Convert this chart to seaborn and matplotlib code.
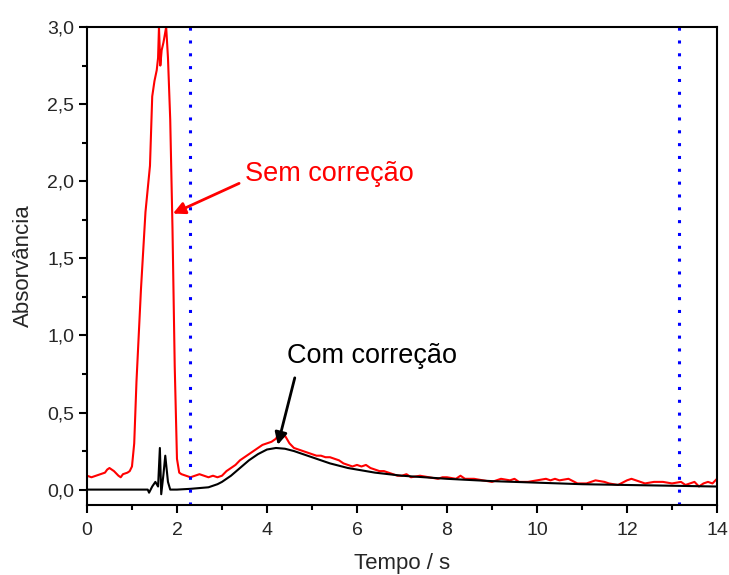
import matplotlib
matplotlib.use("Agg")
import matplotlib.pyplot as plt
from matplotlib.ticker import MultipleLocator, FuncFormatter
import numpy as np
import pandas as pd
import seaborn as sns

# Signal without background correction (time in s, absorbance)
t_sem = [0.0, 0.1, 0.2, 0.3, 0.4, 0.45, 0.5, 0.55, 0.6, 0.7, 0.75, 0.8, 0.9, 0.95,
         1.0, 1.05, 1.1, 1.2, 1.3, 1.4, 1.45, 1.5, 1.55, 1.58, 1.6, 1.63, 1.66, 1.7,
         1.76, 1.8, 1.85, 1.9, 1.95, 2.0, 2.05, 2.1, 2.2, 2.3, 2.4, 2.5, 2.6, 2.7,
         2.8, 2.9, 3.0, 3.1, 3.2, 3.3, 3.4, 3.5, 3.6, 3.7, 3.8, 3.9, 4.0, 4.1, 4.2,
         4.25, 4.3, 4.4, 4.5, 4.6, 4.7, 4.8, 4.9, 5.0, 5.1, 5.2, 5.3, 5.4, 5.5, 5.6,
         5.7, 5.8, 5.9, 6.0, 6.1, 6.2, 6.3, 6.4, 6.5, 6.6, 6.7, 6.8, 6.9, 7.0, 7.1,
         7.2, 7.4, 7.6, 7.8, 7.9, 8.0, 8.2, 8.3, 8.4, 8.6, 8.8, 9.0, 9.1, 9.2, 9.4,
         9.5, 9.6, 9.8, 10.0, 10.2, 10.3, 10.4, 10.5, 10.7, 10.9, 11.1, 11.3, 11.5,
         11.6, 11.8, 12.0, 12.1, 12.2, 12.4, 12.6, 12.8, 13.0, 13.2, 13.3, 13.5,
         13.6, 13.7, 13.8, 13.9, 14.0]
a_sem = [0.09, 0.08, 0.09, 0.10, 0.11, 0.13, 0.14, 0.13, 0.12, 0.09, 0.08, 0.10, 0.11, 0.12,
         0.15, 0.30, 0.70, 1.30, 1.80, 2.10, 2.55, 2.65, 2.72, 2.80, 3.00, 2.75, 2.85, 2.90,
         3.00, 2.80, 2.40, 1.70, 0.80, 0.20, 0.11, 0.10, 0.09, 0.08, 0.09, 0.10, 0.09, 0.08,
         0.09, 0.08, 0.09, 0.12, 0.14, 0.16, 0.19, 0.21, 0.23, 0.25, 0.27, 0.29, 0.30, 0.31, 0.33,
         0.36, 0.33, 0.35, 0.30, 0.27, 0.26, 0.25, 0.24, 0.23, 0.22, 0.22, 0.21, 0.21, 0.20, 0.19,
         0.17, 0.16, 0.15, 0.16, 0.15, 0.16, 0.14, 0.13, 0.12, 0.12, 0.11, 0.10, 0.09, 0.09, 0.10,
         0.08, 0.09, 0.08, 0.07, 0.08, 0.08, 0.07, 0.09, 0.07, 0.07, 0.06, 0.05, 0.06, 0.07, 0.06,
         0.07, 0.05, 0.05, 0.06, 0.07, 0.06, 0.07, 0.06, 0.07, 0.04, 0.04, 0.06, 0.05,
         0.04, 0.03, 0.06, 0.07, 0.06, 0.04, 0.05, 0.05, 0.04, 0.05, 0.03, 0.05,
         0.02, 0.04, 0.05, 0.04, 0.07]

# Signal with background correction
t_com = [0.0, 0.5, 1.0, 1.35, 1.38, 1.45, 1.52, 1.58, 1.62, 1.65, 1.7, 1.74, 1.8, 1.85,
         1.9, 2.0, 2.3, 2.5, 2.7, 2.9, 3.0, 3.2, 3.4, 3.6, 3.8, 4.0, 4.2, 4.4, 4.6, 4.8,
         5.0, 5.2, 5.4, 5.6, 5.8, 6.0, 6.4, 7.0, 7.5, 8.0, 9.0, 10.0, 11.0, 12.0, 13.0, 14.0]
a_com = [0.0, 0.0, 0.0, 0.0, -0.02, 0.02, 0.05, 0.02, 0.27, -0.03, 0.10, 0.22, 0.05, 0.0,
         0.0, 0.0, 0.005, 0.01, 0.015, 0.035, 0.05, 0.09, 0.14, 0.19, 0.23, 0.26, 0.27, 0.265, 0.25, 0.23,
         0.21, 0.19, 0.17, 0.155, 0.14, 0.13, 0.11, 0.09, 0.08, 0.07, 0.055, 0.045, 0.035, 0.03, 0.025, 0.02]

# Integration window limits (s)
window = [2.3, 13.15]

sns.set_theme(style="ticks")
plt.rcParams["font.family"] = ["Liberation Sans", "DejaVu Sans"]

df = pd.concat([
    pd.DataFrame({"Tempo": t_sem, "Abs": a_sem, "serie": "Sem correção"}),
    pd.DataFrame({"Tempo": t_com, "Abs": a_com, "serie": "Com correção"}),
])

fig = plt.figure(figsize=(7.29, 5.75), dpi=100)
ax = fig.add_axes([0.1193, 0.1217, 0.8642, 0.8313])

sns.lineplot(data=df, x="Tempo", y="Abs", hue="serie",
             palette={"Sem correção": "#ff0000", "Com correção": "#000000"},
             estimator=None, sort=False, linewidth=1.5, legend=False, ax=ax)

for xv in window:
    ax.axvline(xv, color="#0000ff", linewidth=2.2, linestyle=(0, (1, 3.2)))

ax.set_xlim(0, 14)
ax.set_ylim(-0.1, 3.0)
ax.xaxis.set_major_locator(MultipleLocator(2))
ax.xaxis.set_minor_locator(MultipleLocator(1))
ax.yaxis.set_major_locator(MultipleLocator(0.5))
ax.yaxis.set_minor_locator(MultipleLocator(0.25))
ax.yaxis.set_major_formatter(FuncFormatter(lambda v, p: f"{v:.1f}".replace(".", ",")))
ax.xaxis.set_major_formatter(FuncFormatter(lambda v, p: f"{v:.0f}"))

for s in ax.spines.values():
    s.set_linewidth(1.5)
    s.set_color("black")
ax.tick_params(which="major", direction="out", length=6, width=1.5, color="black")
ax.tick_params(which="minor", direction="out", length=3.5, width=1.5, color="black")
ax.tick_params(axis="y", labelsize=14, pad=3)
ax.tick_params(axis="x", labelsize=14, pad=6)

ax.set_xlabel("Tempo / s", fontsize=16, labelpad=10)
ax.set_ylabel("Absorvância", fontsize=16, labelpad=10)

ax.annotate("Sem correção", xy=(1.91, 1.79), xytext=(3.51, 2.0),
            color="#ff0000", fontsize=19.5, ha="left", va="baseline",
            arrowprops=dict(arrowstyle="-|>", color="#ff0000", lw=2,
                            mutation_scale=18, shrinkA=2, shrinkB=0,
                            relpos=(0.0, 0.25)))
ax.annotate("Com correção", xy=(4.24, 0.29), xytext=(4.44, 0.82),
            color="black", fontsize=19.5, ha="left", va="baseline",
            arrowprops=dict(arrowstyle="-|>", color="black", lw=2,
                            mutation_scale=18, shrinkA=4, shrinkB=0,
                            relpos=(0.06, 0.0)))

fig.savefig("out.png", dpi=100)
